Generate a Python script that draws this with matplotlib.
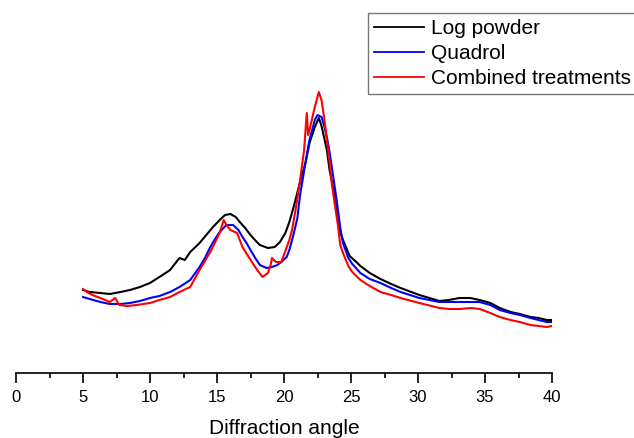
import matplotlib
matplotlib.use("Agg")
import matplotlib.pyplot as plt
from matplotlib.ticker import MultipleLocator

plt.rcParams['font.family'] = ['Liberation Sans', 'DejaVu Sans']

# Log powder
x_log = [5.0, 5.5, 6.3, 7.0, 7.8, 8.5, 9.25, 10.0, 10.7, 11.5, 12.2, 12.6, 13.0, 13.7,
         14.2, 14.7, 15.2, 15.6, 16.0, 16.4, 16.7, 17.1, 17.5, 17.9, 18.2, 18.8, 19.3,
         19.7, 20.1, 20.4, 20.8, 21.2, 21.6, 21.9, 22.3, 22.6, 22.8, 23.0, 23.2, 23.4,
         23.7, 24.0, 24.2, 24.4, 24.9, 25.4, 25.7, 26.4, 27.2, 28.0, 28.7, 30.1, 31.6,
         32.3, 33.1, 33.9, 34.6, 35.4, 36.1, 36.9, 37.6, 38.4, 39.0, 39.6, 40.0]
y_log = [83, 81, 80, 79, 81, 83, 86, 90, 96, 103, 115, 113, 121, 130,
         138, 146, 153, 158, 159, 156, 151, 145, 138, 132, 128, 125, 126,
         131, 140, 151, 170, 191, 210, 230, 246, 255, 247, 235, 223, 203,
         183, 158, 141, 133, 117, 111, 107, 100, 94, 89, 85, 78, 72,
         73, 75, 75, 73, 70, 65, 61, 59, 56, 55, 53, 53]

# Quadrol
x_quad = [5.0, 5.5, 6.3, 7.0, 7.8, 8.5, 9.25, 10.0, 10.7, 11.5, 12.2, 13.0, 13.7, 14.1,
          14.5, 14.9, 15.2, 15.7, 16.2, 16.6, 16.9, 17.2, 17.5, 17.9, 18.2, 18.7, 19.1,
          19.5, 19.8, 20.2, 20.4, 20.7, 21.0, 21.2, 21.6, 21.9, 22.3, 22.5, 22.8, 23.0,
          23.2, 23.4, 23.6, 23.8, 24.0, 24.2, 24.4, 24.8, 25.1, 25.7, 26.4, 27.2, 28.0,
          28.7, 30.1, 31.6, 32.3, 33.1, 34.6, 35.4, 36.1, 36.9, 37.6, 38.4, 39.6, 40.0]
y_quad = [76, 74, 71, 69, 69, 70, 72, 75, 77, 81, 86, 93, 106, 115,
          126, 135, 141, 148, 148, 143, 136, 130, 123, 114, 108, 105, 106,
          108, 111, 116, 123, 138, 155, 178, 210, 233, 253, 258, 256, 247,
          236, 221, 203, 185, 166, 145, 130, 115, 109, 100, 94, 90, 85,
          81, 75, 71, 71, 71, 71, 68, 63, 60, 58, 55, 51, 51]

# Combined treatments
x_comb = [5.0, 5.4, 5.7, 6.3, 7.0, 7.4, 7.7, 8.3, 9.0, 10.0, 10.7, 11.5, 12.2, 13.0,
          13.7, 14.5, 15.2, 15.5, 15.7, 16.0, 16.5, 16.9, 17.6, 18.0, 18.4, 18.8, 19.0,
          19.1, 19.4, 19.8, 20.4, 20.6, 20.9, 21.2, 21.5, 21.7, 21.8, 21.9, 22.3, 22.6,
          22.8, 23.0, 23.2, 23.4, 23.6, 23.8, 24.0, 24.2, 24.4, 24.8, 25.1, 25.7, 26.4,
          27.2, 28.0, 28.7, 30.1, 31.6, 32.3, 33.1, 34.0, 34.6, 35.4, 36.1, 36.9, 37.6,
          38.4, 39.6, 40.0]
y_comb = [84, 80, 78, 75, 71, 75, 68, 67, 68, 70, 73, 76, 81, 86,
          103, 121, 140, 153, 148, 143, 140, 126, 111, 103, 96, 100, 108,
          115, 111, 111, 133, 143, 166, 193, 223, 260, 238, 243, 266, 281,
          273, 255, 233, 211, 186, 168, 150, 128, 120, 107, 101, 93, 87,
          81, 78, 75, 70, 65, 64, 64, 65, 64, 60, 56, 53, 51,
          48, 46, 47]

labels = ["Log powder", "Quadrol", "Combined treatments"]
colors = ["#000000", "#0000ff", "#ff0000"]

W, H = 634, 438
fig = plt.figure(figsize=(W / 100, H / 100), dpi=100)
ax = fig.add_axes([16 / W, 65 / H, 536 / W, 373 / H])

ax.plot(x_log, y_log, color=colors[0], lw=1.5, label=labels[0])
ax.plot(x_quad, y_quad, color=colors[1], lw=1.5, label=labels[1])
ax.plot(x_comb, y_comb, color=colors[2], lw=1.5, label=labels[2])

ax.set_xlim(0, 40)
ax.set_ylim(0, 373)
for s in ["left", "right", "top"]:
    ax.spines[s].set_visible(False)
ax.spines["bottom"].set_linewidth(1.2)
ax.set_yticks([])
ax.xaxis.set_major_locator(MultipleLocator(5))
ax.xaxis.set_minor_locator(MultipleLocator(2.5))
ax.tick_params(axis="x", which="major", direction="out", length=7.5, width=1.2,
               labelsize=12, pad=5)
ax.tick_params(axis="x", which="minor", direction="out", length=3.5, width=1.2)
ax.set_xlabel("Diffraction angle", fontsize=15, labelpad=10)

leg = ax.legend(loc="upper left", bbox_to_anchor=(368 / W, 1 - 13 / H),
                bbox_transform=fig.transFigure, borderaxespad=0, fontsize=15,
                frameon=True, fancybox=False, edgecolor="#555555",
                handlelength=2.4, handletextpad=0.3, labelspacing=0.28,
                borderpad=0.3)
leg.get_frame().set_linewidth(1.0)
for line in leg.get_lines():
    line.set_linewidth(1.3)

fig.savefig("out.png", dpi=100)
